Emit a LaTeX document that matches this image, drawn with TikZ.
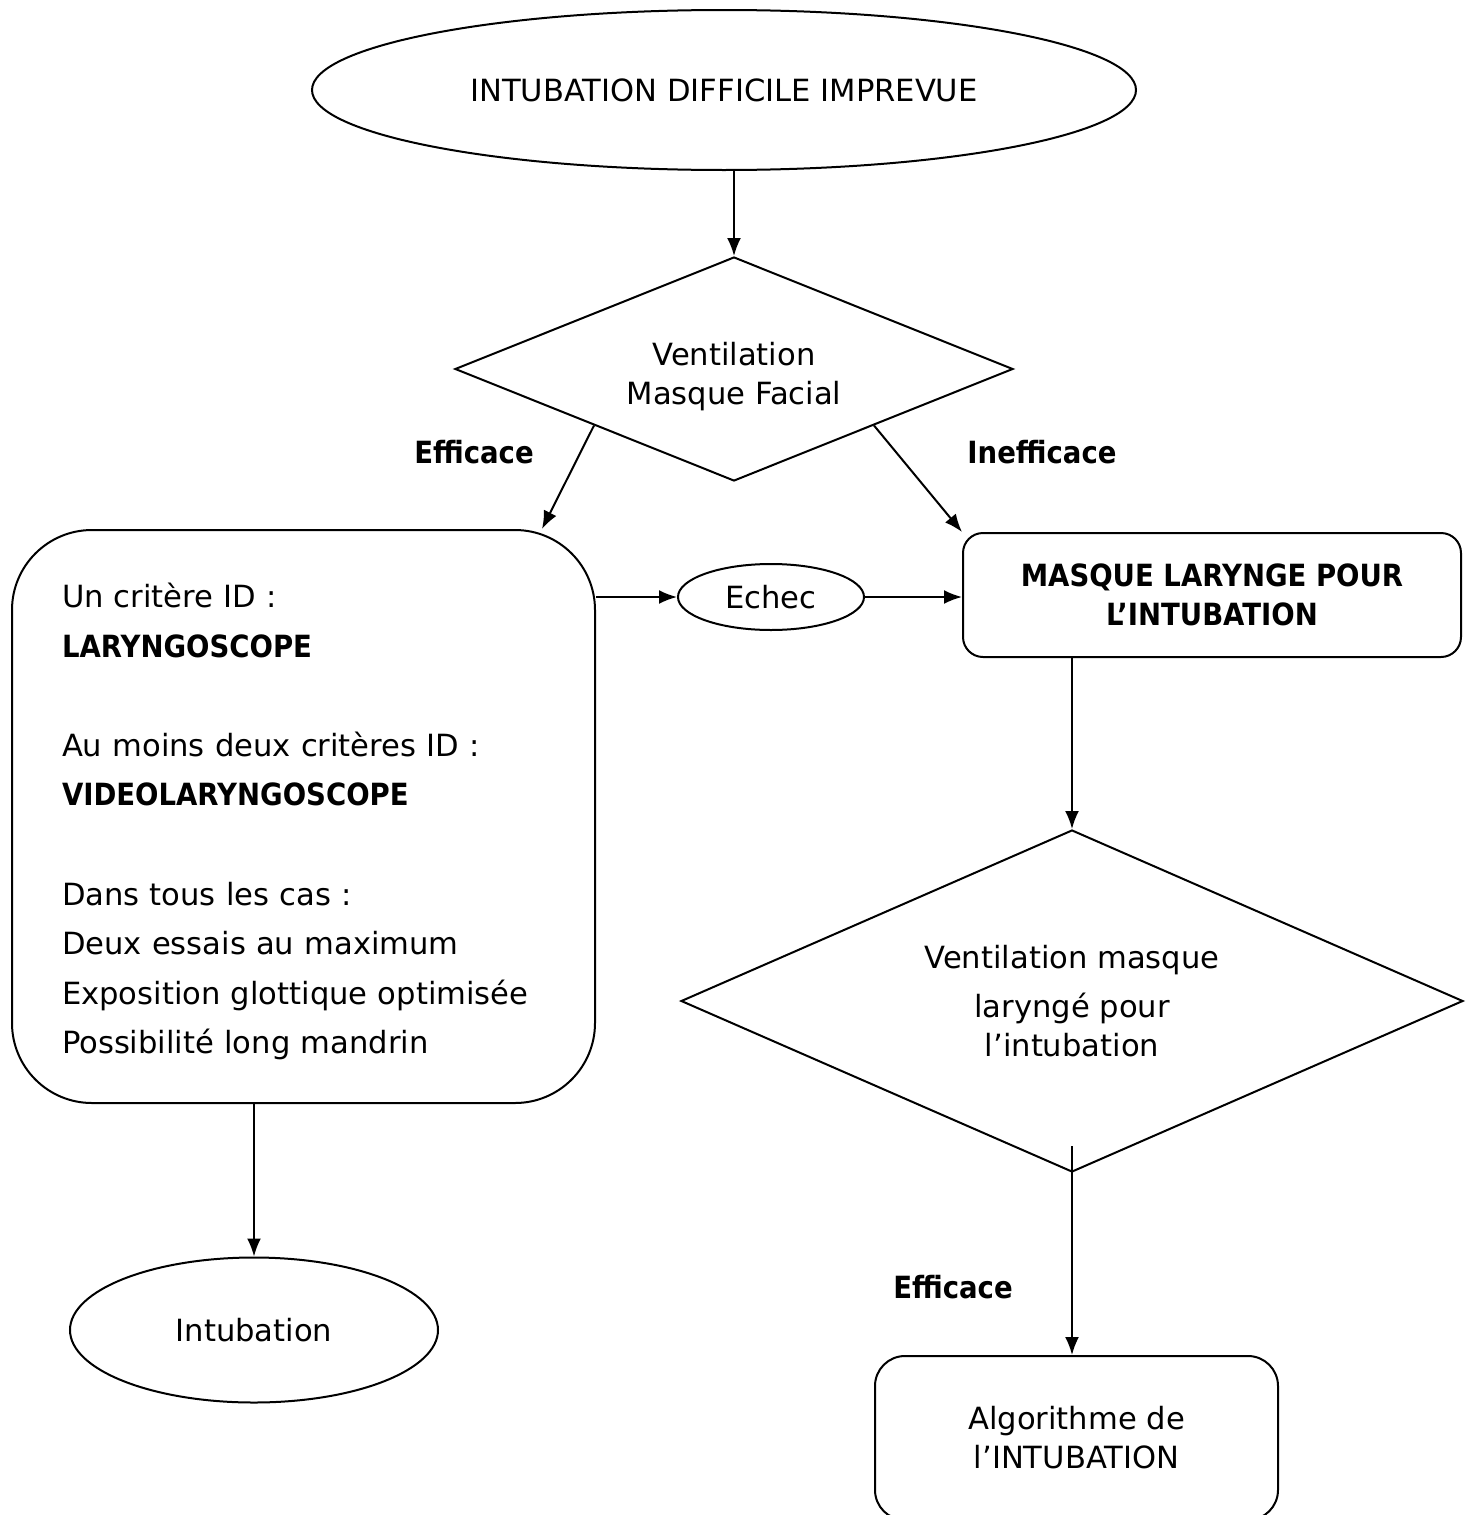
\documentclass[tikz,border=0pt]{standalone}
\usepackage{fontspec}
\setmainfont{DejaVu Sans}
\newfontfamily\grasfont[FakeStretch=0.9]{DejaVu Sans}
\usetikzlibrary{shapes.geometric,arrows.meta}
\newcommand{\txtgras}[1]{{\grasfont\bfseries\fontsize{15.3}{24.8}\selectfont #1}}

\begin{document}
\begin{tikzpicture}[x=0.5pt,y=-0.5pt,line width=1pt,>={Latex[length=9pt,width=7pt]},
        font=\fontsize{15.3}{19.5}\selectfont,
        ovale/.style={draw,ellipse,inner sep=0pt},
        losange/.style={draw,diamond,inner sep=0pt,align=center},
        boite/.style={draw,rectangle,inner sep=0pt,align=center},
        gras/.style={font=\grasfont\bfseries\fontsize{15.3}{19.5}\selectfont}]
        \useasboundingbox (0,0) rectangle (1474,1515);
        \node[ovale,minimum width=412pt,minimum height=80pt] (debut) at (724,90) {INTUBATION DIFFICILE IMPREVUE};
        \node[losange,shape aspect=2.5,minimum width=279pt,minimum height=112pt,text height=39pt] (vmf) at (734,369) {Ventilation\\Masque Facial};
        \node[gras] (eff) at (474,452) {Efficace};
        \node[gras] (ineff) at (1042,452) {Inefficace};
        \node[boite,align=left,rounded corners=40pt,minimum width=291.5pt,minimum height=286.5pt,text width=241.5pt,text height=17.4pt,font=\fontsize{15.3}{24.8}\selectfont] (crit) at (303.5,816.5) {Un critère ID :\\
        \txtgras{LARYNGOSCOPE}\\[24.8pt]
        Au moins deux critères ID :\\
        \txtgras{VIDEOLARYNGOSCOPE}\\[24.8pt]
        Dans tous les cas :\\
        Deux essais au maximum\\
        Exposition glottique optimisée\\
        Possibilité long mandrin};
        \node[ovale,minimum width=93pt,minimum height=33pt] (echec) at (771,597) {Echec};
        \node[boite,gras,rounded corners=10pt,minimum width=249pt,minimum height=62pt] (mlt) at (1212,595) {MASQUE LARYNGE POUR\\L’INTUBATION};
        \node[losange,shape aspect=2.29,minimum width=391pt,minimum height=171pt] (vml) at (1072,1001) {Ventilation masque\\[5pt]laryngé pour\\l’intubation};
        \node[gras] (eff2) at (953,1287) {Efficace};
        \node[boite,rounded corners=15pt,minimum width=201.5pt,minimum height=82pt] (algo) at (1076.5,1438) {Algorithme de\\l’INTUBATION};
        \node[ovale,minimum width=184pt,minimum height=72.5pt] (intub) at (254,1330) {Intubation};
        \coordinate (vml-bas) at ([yshift=13.5pt]vml.south);
        \draw[->] (vmf.north |- debut.south) -- (vmf.north);
        \draw[->] (vmf.south west) -- ([xshift=-27pt]crit.north east);
        \draw[->] (vmf.south east) -- (mlt.north west);
        \draw[->] (crit.east |- echec.west) -- (echec.west);
        \draw[->] (echec.east) -- (echec.east -| mlt.west);
        \draw[->] (vml.north |- mlt.south) -- (vml.north);
        \draw[->] (vml-bas) -- (vml-bas |- algo.north);
        \draw[->] (intub.north |- crit.south) -- (intub.north);
\end{tikzpicture}
\end{document}
